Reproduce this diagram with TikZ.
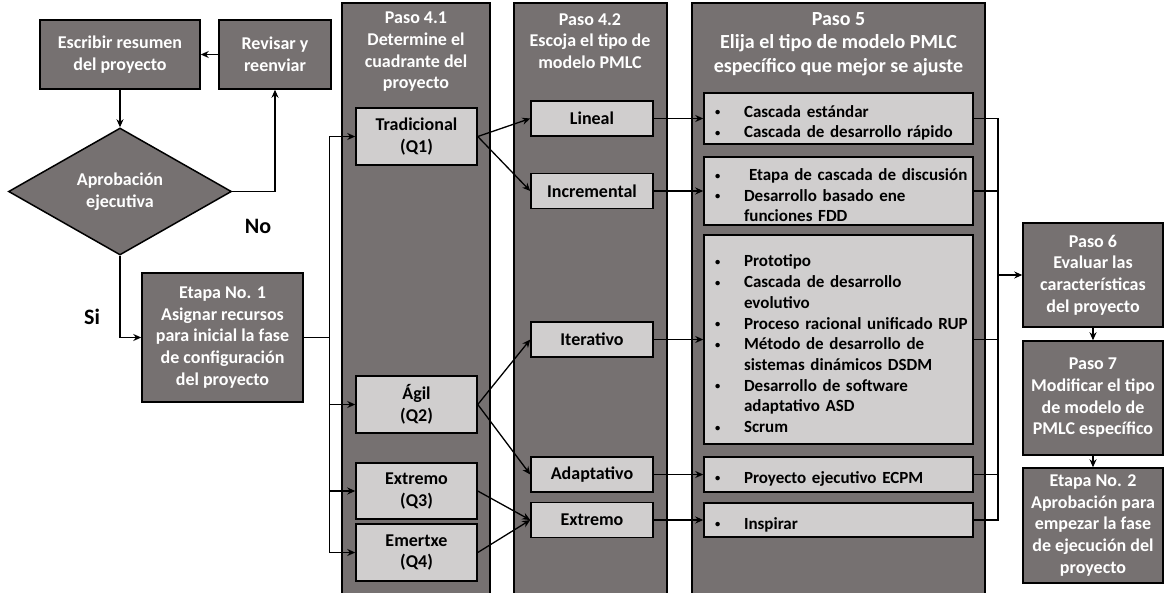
\documentclass[tikz,border=0pt]{standalone}
\usepackage{fontspec}
\setmainfont{Carlito}
\usetikzlibrary{arrows.meta,shapes.geometric}
\definecolor{panelgray}{HTML}{767171}
\definecolor{boxgray}{HTML}{D0CECE}
\newcommand{\bitem}[1]{\par\noindent\makebox[29pt][l]{\raisebox{1.5pt}{\fontsize{10.5}{10.5}\selectfont\textbullet}}\mbox{#1}}
\newcommand{\bcont}[1]{\par\noindent\hspace*{29pt}\mbox{#1}}
\begin{document}
\begin{tikzpicture}[x=1pt, y=-1pt,
  every node/.style={font=\bfseries\fontsize{18}{21.7}\selectfont, align=center},
  darkbox/.style={draw=black, line width=1.5pt, fill=panelgray, text=white, inner sep=2pt},
  lightbox/.style={draw=black, line width=1.5pt, fill=boxgray, text=black, inner sep=2pt},
  quad/.style={lightbox, minimum width=121pt, minimum height=57pt},
  pmlc/.style={lightbox, minimum width=122pt, minimum height=35pt},
  listbox/.style={lightbox, minimum width=269pt, text width=247pt, inner xsep=11pt,
    align=left, font=\bfseries\fontsize{17}{20.7}\selectfont},
  rightbox/.style={darkbox, minimum width=140pt},
  panel/.style={draw=black, line width=1.5pt, fill=panelgray},
  conn/.style={line width=1.3pt, -{Stealth[length=8pt,width=7pt]}}]
  \path[use as bounding box, fill=white] (0,0) rectangle (1164,592);
  \foreach \xa/\xb in {342/490, 514/667, 692/985}
    \draw[panel] (\xa,3) rectangle (\xb,600);
  \node[text=white] (t41) at (416,52) {Paso 4.1\\Determine el\\cuadrante del\\proyecto};
  \node[text=white] (t42) at (590,41) {Paso 4.2\\Escoja el tipo de\\modelo PMLC};
  \node[text=white, font=\bfseries\fontsize{20}{23.5}\selectfont] (t5) at (838.5,44)
    {Paso 5\\Elija el tipo de modelo PMLC\\específico que mejor se ajuste};

  \node[darkbox, minimum width=160pt, minimum height=69pt] (resumen) at (120,54.5)
    {Escribir resumen\\del proyecto};
  \node[darkbox, minimum width=112pt, minimum height=69pt] (revisar) at (275,54.5)
    {Revisar y\\reenviar};
  \node[darkbox, diamond, minimum width=223pt, minimum height=127pt, inner sep=0pt]
    (aprob) at (120,191.5) {Aprobación\\ejecutiva};
  \node[darkbox, minimum width=161pt, minimum height=129pt] (etapa1) at (222.5,337.5)
    {Etapa No. 1\\Asignar recursos\\para inicial la fase\\de configuración\\del proyecto};
  \node[font=\bfseries\fontsize{22}{26}\selectfont] (no) at (258,226) {No};
  \node[font=\bfseries\fontsize{22}{26}\selectfont] (si) at (92,317) {Si};

  \node[quad] (trad) at (416.5,136.5) {Tradicional\\(Q1)};
  \node[quad] (agil) at (416.5,404.5) {Ágil\\(Q2)};
  \node[quad, minimum height=56pt] (extq) at (416.5,491) {Extremo\\(Q3)};
  \node[quad] (emer) at (416.5,552.5) {Emertxe\\(Q4)};

  \node[pmlc] (lineal) at (592,118.5) {Lineal};
  \node[pmlc] (incr) at (592,191) {Incremental};
  \node[pmlc] (iter) at (592,339.5) {Iterativo};
  \node[pmlc] (adapt) at (592,474.5) {Adaptativo};
  \node[pmlc] (extr) at (592,520) {Extremo};

  \node[listbox, minimum height=51pt] (lstA) at (838.5,118.5)
    {\bitem{Cascada estándar}\bitem{Cascada de desarrollo rápido}};
  \node[listbox, minimum height=68pt] (lstB) at (838.5,191)
    {\bitem{\hspace*{5pt}Etapa de cascada de discusión}\bitem{Desarrollo basado ene}\bcont{funciones FDD}};
  \node[listbox, minimum height=209pt] (lstC) at (838.5,339.5)
    {\bitem{Prototipo}\bitem{Cascada de desarrollo}\bcont{evolutivo}%
     \bitem{Proceso racional unificado RUP}\bitem{Método de desarrollo de}%
     \bcont{sistemas dinámicos DSDM}\bitem{Desarrollo de software}\bcont{adaptativo ASD}%
     \bitem{Scrum}};
  \node[listbox, minimum height=35pt] (lstD) at (838.5,474.5) {\bitem{Proyecto ejecutivo ECPM}};
  \node[listbox, minimum height=34pt] (lstE) at (838.5,520) {\bitem{Inspirar}};

  \node[rightbox, minimum height=104pt] (paso6) at (1093,275)
    {Paso 6\\Evaluar las\\características\\del proyecto};
  \node[rightbox, minimum height=114pt] (paso7) at (1093,398)
    {Paso 7\\Modificar el tipo\\de modelo de\\PMLC específico};
  \node[rightbox, minimum height=115pt] (etapa2) at (1093,525.5)
    {Etapa No. 2\\Aprobación para\\empezar la fase\\de ejecución del\\proyecto};

  \draw[conn] (revisar.west) -- (resumen.east);
  \draw[conn] (resumen.south) -- (aprob.north);
  \draw[conn] (aprob.east) -| (revisar.south);
  \draw[conn] (aprob.south) |- (etapa1.west);
  \foreach \q in {trad,agil,extq,emer}
    \draw[conn] (etapa1.east) -- ++(26,0) |- (\q.west);
  \draw[conn] (trad.east) -- (lineal.west);
  \draw[conn] (trad.east) -- (incr.west);
  \draw[conn] (agil.east) -- (iter.west);
  \draw[conn] (agil.east) -- (adapt.west);
  \draw[conn] (extq.east) -- (extr.west);
  \draw[conn] (emer.east) -- (extr.west);
  \foreach \a/\b in {lineal/lstA, incr/lstB, iter/lstC, adapt/lstD, extr/lstE}
    \draw[conn] (\a) -- (\b);
  \coordinate (bus) at (998,275);
  \foreach \b in {lstA,lstB,lstC,lstD,lstE}
    \draw[line width=1.3pt] (\b.east) -| (bus);
  \draw[conn] (bus) -- (paso6.west);
  \draw[conn] (paso6) -- (paso7);
  \draw[conn] (paso7) -- (etapa2);
\end{tikzpicture}
\end{document}
